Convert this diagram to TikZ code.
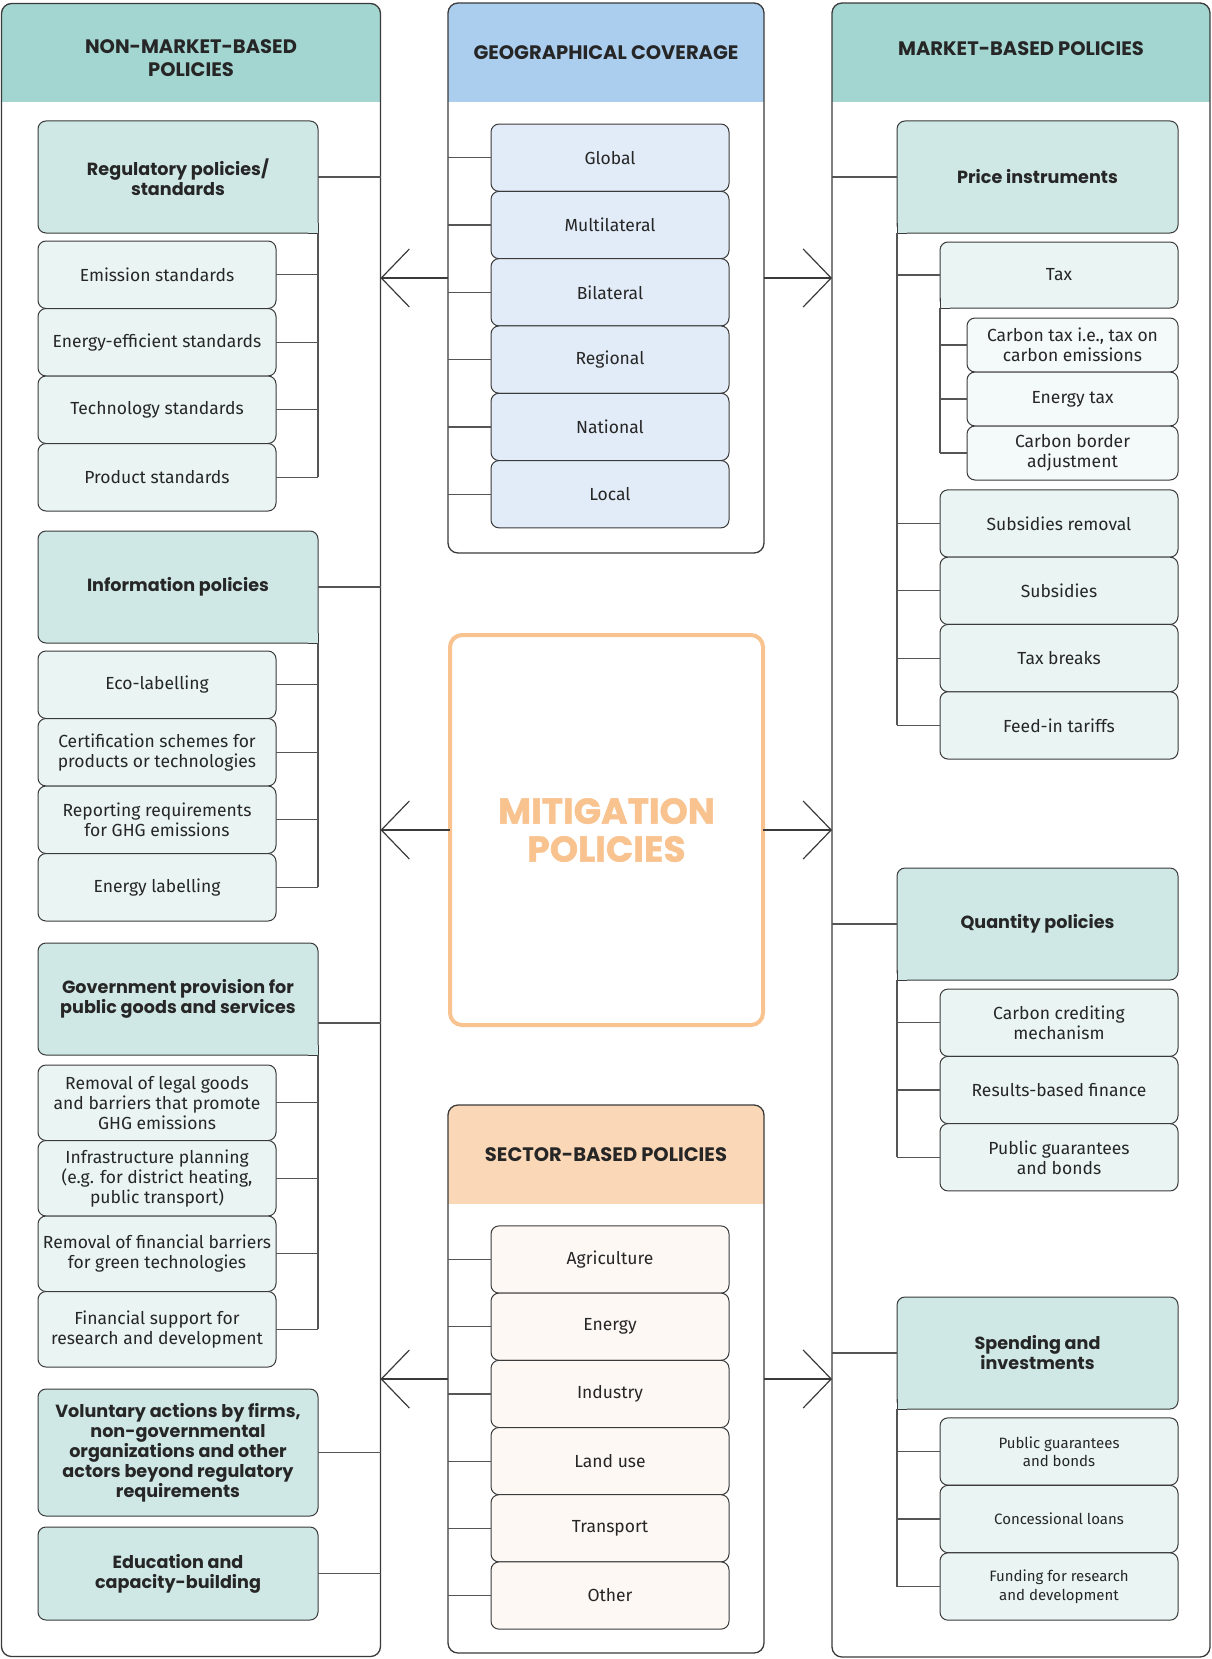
\documentclass[tikz,border=0pt]{standalone}
\usepackage{fontspec}
\setmainfont{Fira Sans}
\newfontfamily\headfont{Poppins}
\newfontfamily\mitfam{Poppins}[FakeBold=1.2]
\usetikzlibrary{arrows.meta,positioning}

\definecolor{ink}{HTML}{262626}
\definecolor{edge}{HTML}{3A3A3A}
\definecolor{wire}{HTML}{555555}
\definecolor{tealhead}{HTML}{A3D5D1}
\definecolor{tealsub}{HTML}{CFE8E5}
\definecolor{tealleaf}{HTML}{EAF5F3}
\definecolor{tealpale}{HTML}{F4FAF9}
\definecolor{bluehead}{HTML}{ABCDEE}
\definecolor{blueleaf}{HTML}{E2ECF8}
\definecolor{sandhead}{HTML}{FAD7B6}
\definecolor{sandleaf}{HTML}{FDF8F4}
\definecolor{mitorange}{HTML}{F9C390}

\newcommand\leaffont{\fontsize{17.5}{20}\selectfont}
\newcommand\tinyleaffont{\fontsize{15}{18.5}\selectfont}
\newcommand\groupfont{\headfont\bfseries\fontsize{17.6}{20}\selectfont}
\newcommand\titlefont{\headfont\bfseries\fontsize{19.5}{22.5}\selectfont}
\newcommand\mitfont{\mitfam\bfseries\fontsize{36}{38}\selectfont}

% square corner where a trunk leaves a rounded box
\newcommand\sqcorner[4]{%
  \fill[#4] (#1) rectangle ([xshift=#2,yshift=#3]#1);
  \draw[boxedge] ([xshift=#2]#1) -- (#1) -- ([yshift=#3]#1);}

\tikzset{
  boxedge/.style={draw=edge, line width=1pt},
  pbox/.style={boxedge, rounded corners=8pt, align=center, inner sep=1pt, outer sep=0pt, text=ink},
  leafbox/.style={pbox, fill=tealleaf, font=\leaffont, minimum width=238pt, minimum height=67.5pt},
  groupbox/.style={pbox, fill=tealsub, font=\groupfont, minimum width=280pt, minimum height=112pt},
  geoleaf/.style={leafbox, fill=blueleaf, minimum height=67.3pt},
  sectorleaf/.style={leafbox, fill=sandleaf, minimum height=67.2pt},
  panelbox/.style={draw=edge, line width=1.3pt, rounded corners=10pt, fill=white, inner sep=0pt, outer sep=0pt,
    path picture={\fill[#1, sharp corners] (path picture bounding box.north west) rectangle ([yshift=-99pt]path picture bounding box.north east);}},
  titletext/.style={font=\titlefont, text=ink, align=center, inner sep=0pt},
  mitbox/.style={draw=mitorange, line width=4pt, rounded corners=12pt, fill=white, minimum width=313pt, minimum height=390pt,
    font=\mitfont, text=mitorange, align=center, outer sep=0pt},
  link/.style={draw=wire, line width=1.2pt},
  flow/.style={draw=edge, line width=1.2pt, -{Straight Barb[length=28pt, width=58pt]}}
}

\begin{document}
\begin{tikzpicture}[x=1pt, y=-1pt]
  \useasboundingbox (0,0) rectangle (1212,1659);

  %%%%% PANELS %%%%%
  \node[panelbox=tealhead, minimum width=379pt, minimum height=1653pt] (nonmkt) at (191,830) {};
  \node[titletext] (nonmkt-t) at (191,58) {NON-MARKET-BASED\\POLICIES};

  \node[panelbox=bluehead, minimum width=316pt, minimum height=550pt] (geo) at (606,278) {};
  \node[titletext] (geo-t) at (606,52.5) {GEOGRAPHICAL COVERAGE};

  \node[panelbox=sandhead, minimum width=316pt, minimum height=548pt] (sector) at (606,1379) {};
  \node[titletext] (sector-t) at (606,1155) {SECTOR-BASED POLICIES};

  \node[panelbox=tealhead, minimum width=378pt, minimum height=1654pt] (mkt) at (1021,830) {};
  \node[titletext] (mkt-t) at (1021,48.5) {MARKET-BASED POLICIES};

  \node[mitbox] (mit) at (606.5,830) {MITIGATION\\POLICIES};

  %%%%% ARROWS %%%%%
  \draw[flow] (geo.west) -- (geo.west -| nonmkt.east);
  \draw[flow] (geo.east) -- (geo.east -| mkt.west);
  \draw[flow] (mit.west) -- (mit.west -| nonmkt.east);
  \draw[flow] (mit.east) -- (mit.east -| mkt.west);
  \draw[flow] (sector.west) -- (sector.west -| nonmkt.east);
  \draw[flow] (sector.east) -- (sector.east -| mkt.west);

  %%%%% NON-MARKET-BASED %%%%%
  \node[groupbox] (reg) at (178,177) {Regulatory policies/\\standards};
  \node[leafbox] (emis) at (157,274.75) {Emission standards};
  \node[leafbox] (effi) at (157,342.25) {Energy-efficient standards};
  \node[leafbox] (tech) at (157,409.75) {Technology standards};
  \node[leafbox] (prod) at (157,477.25) {Product standards};
  \sqcorner{reg.south east}{-10pt}{10pt}{tealsub}
  \draw[link] (reg.east) -- (reg.east -| nonmkt.east);
  \draw[link] (reg.south east) -- (prod.east -| reg.east);
  \draw[link] (emis.east) -- (emis.east -| reg.east);
  \draw[link] (effi.east) -- (effi.east -| reg.east);
  \draw[link] (tech.east) -- (tech.east -| reg.east);
  \draw[link] (prod.east) -- (prod.east -| reg.east);

  \node[groupbox] (info) at (178,587) {Information policies};
  \node[leafbox] (eco) at (157,684.75) {Eco-labelling};
  \node[leafbox] (cert) at (157,752.25) {Certification schemes for\\products or technologies};
  \node[leafbox] (report) at (157,819.75) {Reporting requirements\\for GHG emissions};
  \node[leafbox] (elab) at (157,887.25) {Energy labelling};
  \sqcorner{info.south east}{-10pt}{10pt}{tealsub}
  \draw[link] (info.east) -- (info.east -| nonmkt.east);
  \draw[link] (info.south east) -- (elab.east -| info.east);
  \draw[link] (eco.east) -- (eco.east -| info.east);
  \draw[link] (cert.east) -- (cert.east -| info.east);
  \draw[link] (report.east) -- (report.east -| info.east);
  \draw[link] (elab.east) -- (elab.east -| info.east);

  \node[groupbox] (gov) at (178,999) {Government provision for\\public goods and services};
  \node[leafbox, minimum height=75.5pt] (legal) at (157,1102.75) {Removal of legal goods\\and barriers that promote\\GHG emissions};
  \node[leafbox, minimum height=75.5pt] (infra) at (157,1178.25) {Infrastructure planning\\(e.g. for district heating,\\public transport)};
  \node[leafbox, minimum height=75.5pt] (finbar) at (157,1253.75) {Removal of financial barriers\\for green technologies};
  \node[leafbox, minimum height=75.5pt] (rnd) at (157,1329.25) {Financial support for\\research and development};
  \sqcorner{gov.south east}{-10pt}{10pt}{tealsub}
  \draw[link] ([yshift=-24pt]gov.east) -- ([yshift=-24pt]gov.east -| nonmkt.east);
  \draw[link] (gov.south east) -- (rnd.east -| gov.east);
  \draw[link] (legal.east) -- (legal.east -| gov.east);
  \draw[link] (infra.east) -- (infra.east -| gov.east);
  \draw[link] (finbar.east) -- (finbar.east -| gov.east);
  \draw[link] (rnd.east) -- (rnd.east -| gov.east);

  \node[groupbox, minimum height=127pt] (vol) at (178,1452.5) {Voluntary actions by firms,\\non-governmental\\organizations and other\\actors beyond regulatory\\requirements};
  \node[groupbox, minimum height=93pt] (edu) at (178,1573.5) {Education and\\capacity-building};
  \draw[link] (vol.east) -- (vol.east -| nonmkt.east);
  \draw[link] (edu.east) -- (edu.east -| nonmkt.east);

  %%%%% GEOGRAPHICAL COVERAGE %%%%%
  \node[geoleaf] (glob) at (610,157.7) {Global};
  \node[geoleaf] (multi) at (610,225) {Multilateral};
  \node[geoleaf] (bilat) at (610,292.3) {Bilateral};
  \node[geoleaf] (region) at (610,359.6) {Regional};
  \node[geoleaf] (nation) at (610,426.9) {National};
  \node[geoleaf] (local) at (610,494.2) {Local};
  \draw[link] (glob.west) -- (glob.west -| geo.west);
  \draw[link] (multi.west) -- (multi.west -| geo.west);
  \draw[link] (bilat.west) -- (bilat.west -| geo.west);
  \draw[link] (region.west) -- (region.west -| geo.west);
  \draw[link] (nation.west) -- (nation.west -| geo.west);
  \draw[link] (local.west) -- (local.west -| geo.west);

  %%%%% SECTOR-BASED %%%%%
  \node[sectorleaf] (agri) at (610,1259.5) {Agriculture};
  \node[sectorleaf] (energy) at (610,1326.7) {Energy};
  \node[sectorleaf] (indus) at (610,1393.9) {Industry};
  \node[sectorleaf] (land) at (610,1461.1) {Land use};
  \node[sectorleaf] (trans) at (610,1528.3) {Transport};
  \node[sectorleaf] (other) at (610,1595.5) {Other};
  \draw[link] (agri.west) -- (agri.west -| sector.west);
  \draw[link] (energy.west) -- (energy.west -| sector.west);
  \draw[link] (indus.west) -- (indus.west -| sector.west);
  \draw[link] (land.west) -- (land.west -| sector.west);
  \draw[link] (trans.west) -- (trans.west -| sector.west);
  \draw[link] (other.west) -- (other.west -| sector.west);

  %%%%% MARKET-BASED %%%%%
  \node[groupbox, minimum width=281pt] (price) at (1037.5,177) {Price instruments};
  \node[leafbox, minimum height=66pt] (tax) at (1059,275) {Tax};
  \node[leafbox, fill=tealpale, minimum width=211pt, minimum height=54pt] (ctax) at (1072.5,345) {Carbon tax i.e., tax on\\carbon emissions};
  \node[leafbox, fill=tealpale, minimum width=211pt, minimum height=54pt] (etax) at (1072.5,399) {Energy tax};
  \node[leafbox, fill=tealpale, minimum width=211pt, minimum height=54pt] (cbam) at (1072.5,453) {Carbon border\\adjustment};
  \node[leafbox, minimum height=67.3pt] (subrem) at (1059,523.5) {Subsidies removal};
  \node[leafbox, minimum height=67.3pt] (subs) at (1059,590.8) {Subsidies};
  \node[leafbox, minimum height=67.3pt] (breaks) at (1059,658.1) {Tax breaks};
  \node[leafbox, minimum height=67.3pt] (feed) at (1059,725.4) {Feed-in tariffs};
  \sqcorner{price.south west}{10pt}{10pt}{tealsub}
  \sqcorner{tax.south west}{10pt}{10pt}{tealleaf}
  \draw[link] (price.west) -- (price.west -| mkt.west);
  \draw[link] (price.south west) -- (feed.west -| price.west);
  \draw[link] (tax.west -| price.west) -- (tax.west);
  \draw[link] (tax.south west) -- (cbam.west -| tax.west);
  \draw[link] (ctax.west -| tax.west) -- (ctax.west);
  \draw[link] (etax.west -| tax.west) -- (etax.west);
  \draw[link] (cbam.west -| tax.west) -- (cbam.west);
  \draw[link] (subrem.west -| price.west) -- (subrem.west);
  \draw[link] (subs.west -| price.west) -- (subs.west);
  \draw[link] (breaks.west -| price.west) -- (breaks.west);
  \draw[link] (feed.west -| price.west) -- (feed.west);

  \node[groupbox, minimum width=281pt] (quant) at (1037.5,924) {Quantity policies};
  \node[leafbox, minimum height=67.3pt] (credit) at (1059,1022.7) {Carbon crediting\\mechanism};
  \node[leafbox, minimum height=67.3pt] (result) at (1059,1090) {Results-based finance};
  \node[leafbox, minimum height=67.3pt] (pubq) at (1059,1157.3) {Public guarantees\\and bonds};
  \sqcorner{quant.south west}{10pt}{10pt}{tealsub}
  \draw[link] (quant.west) -- (quant.west -| mkt.west);
  \draw[link] (quant.south west) -- (pubq.west -| quant.west);
  \draw[link] (credit.west -| quant.west) -- (credit.west);
  \draw[link] (result.west -| quant.west) -- (result.west);
  \draw[link] (pubq.west -| quant.west) -- (pubq.west);

  \node[groupbox, minimum width=281pt] (spend) at (1037.5,1353) {Spending and\\investments};
  \node[leafbox, font=\tinyleaffont, minimum height=67.3pt] (pubs) at (1059,1451.5) {Public guarantees\\and bonds};
  \node[leafbox, font=\tinyleaffont, minimum height=67.3pt] (loans) at (1059,1519) {Concessional loans};
  \node[leafbox, font=\tinyleaffont, minimum height=67.3pt] (fund) at (1059,1586.5) {Funding for research\\and development};
  \sqcorner{spend.south west}{10pt}{10pt}{tealsub}
  \draw[link] (spend.west) -- (spend.west -| mkt.west);
  \draw[link] (spend.south west) -- (fund.west -| spend.west);
  \draw[link] (pubs.west -| spend.west) -- (pubs.west);
  \draw[link] (loans.west -| spend.west) -- (loans.west);
  \draw[link] (fund.west -| spend.west) -- (fund.west);
\end{tikzpicture}
\end{document}
